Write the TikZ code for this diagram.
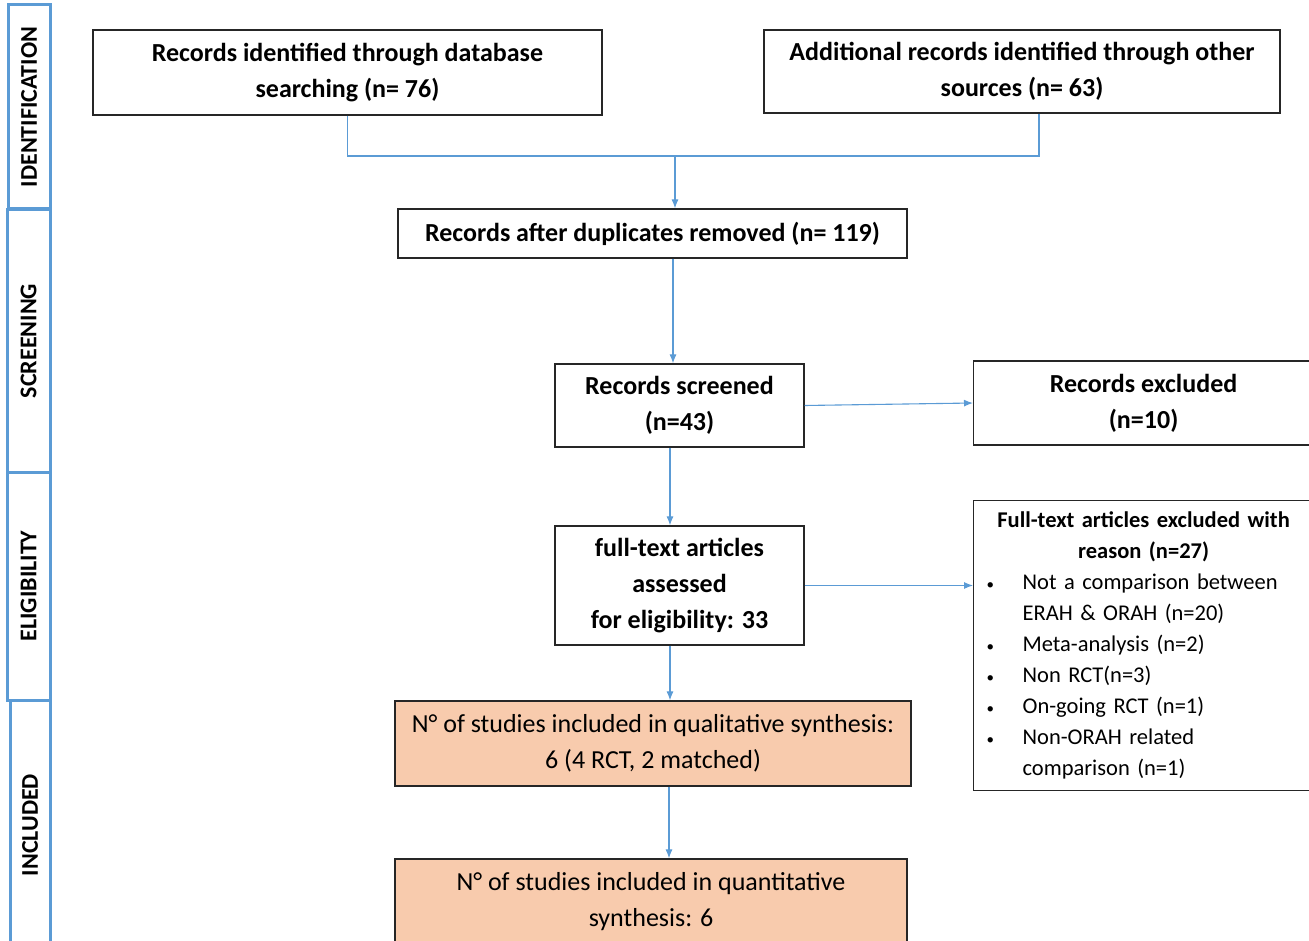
\documentclass[tikz,border=0pt]{standalone}
\usepackage{fontspec}
\setmainfont{Carlito}
\usetikzlibrary{arrows.meta,shapes,positioning}
\definecolor{lineblue}{RGB}{91,155,213}
\definecolor{peach}{RGB}{248,203,173}
\newcommand{\reasonitem}{\hspace*{13pt}\makebox[36pt][l]{\fontsize{15}{15}\selectfont\textbullet}}

\begin{document}
\begin{tikzpicture}[x=1pt,y=-1pt,>={Latex[length=9pt,width=7pt]},node distance=180pt]
  \tikzstyle{record}=[rectangle,draw=black!85,line width=1.2pt,align=center,inner sep=0pt,font=\bfseries\fontsize{26}{36}\selectfont]
  \tikzstyle{result}=[record,fill=peach,font=\fontsize{26}{36}\selectfont]
  \tikzstyle{phase}=[rectangle,draw=lineblue,line width=3pt,rotate=90,inner sep=0pt,font=\bfseries\fontsize{24}{24}\selectfont]
  \tikzstyle{flow}=[->,draw=lineblue,line width=1.1pt]

  \useasboundingbox (0,0) rectangle (1309,941);

  % phases on the left
  \node [phase,minimum width=204pt,minimum height=42pt] (ident) at (29,107) {IDENTIFICATION};
  \node [phase,minimum width=262pt,minimum height=43pt] (screen) at (28.5,341) {SCREENING};
  \node [phase,minimum width=228pt,minimum height=43pt] (elig) at (28.5,586) {ELIGIBILITY};
  \node [phase,minimum width=250pt,minimum height=40pt] (incl) at (30,825) {INCLUDED};

  % records
  \node [record,minimum width=509pt,minimum height=85pt] (db) at (347.5,72.5)
    {Records identified through database\\searching (n= 76)};
  \node [record,minimum width=516pt,minimum height=83pt] (other) at (1022,71.5)
    {Additional records identified through other\\sources (n= 63)};
  \node [record,minimum width=509pt,minimum height=49pt] (dup) at (652.5,233.5)
    {Records after duplicates removed (n= 119)};
  \node [record,minimum width=249pt,minimum height=83pt] (scr) at (679.5,405.5)
    {Records screened\\(n=43)};
  \node [record,minimum width=340pt,minimum height=84pt,anchor=west] (exc) at (973,403)
    {Records excluded\\(n=10)};
  \node [record,minimum width=249pt,minimum height=119pt] (full) [below of=scr]
    {full-text articles\\assessed\\for eligibility: 33};
  \node [record,minimum width=340pt,minimum height=290pt,anchor=north west,align=left,
    text width=340pt,font=\fontsize{22.5}{31}\selectfont] (reason) at (973,500)
    {\centering{\bfseries\fontsize{22.5}{31}\selectfont Full-text articles excluded with\\reason (n=27)\\}
     \raggedright
     \reasonitem Not a comparison between\\
     \hspace*{49pt}ERAH \& ORAH (n=20)\\
     \reasonitem Meta-analysis (n=2)\\
     \reasonitem Non RCT(n=3)\\
     \reasonitem On-going RCT (n=1)\\
     \reasonitem Non-ORAH related\\
     \hspace*{49pt}comparison (n=1)};

  % included studies
  \node [result,minimum width=516pt,minimum height=85pt] (qual) at (653,743.5)
    {N° of studies included in qualitative synthesis:\\6 (4 RCT, 2 matched)};
  \node [result,minimum width=512pt,minimum height=85pt] (quant) at (651,901.5)
    {N° of studies included in quantitative\\synthesis: 6};

  % connectors
  \coordinate (join) at (675,156);
  \draw [lineblue,line width=1.1pt] (db.south) |- (join) -| ([xshift=17pt]other.south);
  \draw [flow] (join) -- (join |- dup.north);
  \draw [flow] ([xshift=20.5pt]dup.south) -- ([xshift=20.5pt]dup.south |- scr.north);
  \draw [flow] (scr.east) -- (exc.west);
  \draw [flow] ([xshift=-9.5pt]scr.south) -- ([xshift=-9.5pt]scr.south |- full.north);
  \draw [flow] (full.east) -- (full.east -| reason.west);
  \draw [flow] ([xshift=-9.5pt]full.south) -- ([xshift=-9.5pt]full.south |- qual.north);
  \draw [flow] ([xshift=16pt]qual.south) -- ([xshift=16pt]qual.south |- quant.north);
\end{tikzpicture}
\end{document}
